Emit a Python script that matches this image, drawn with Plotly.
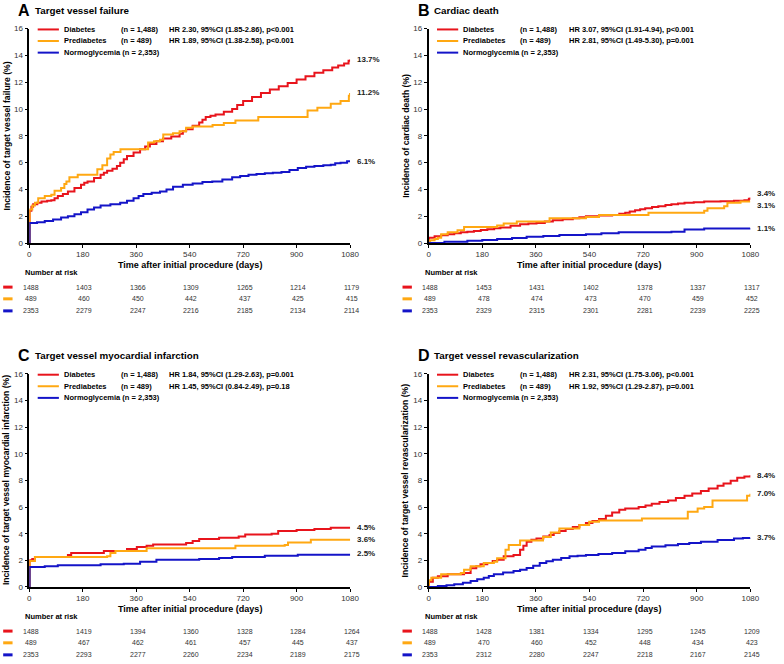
import plotly.graph_objects as go

W, H = 784, 664

# ---------------- DATA ----------------
groups = ["Diabetes", "Prediabetes", "Normoglycemia"]
group_n = ["(n = 1,488)", "(n = 489)", "(n = 2,353)"]
colors = ["#e8141c", "#ffa812", "#1414c8"]

panel_letters = ["A", "B", "C", "D"]
panel_titles = ["Target vessel failure", "Cardiac death",
                "Target vessel myocardial infarction", "Target vessel revascularization"]
y_titles = ["Incidence of target vessel failure (%)", "Incidence of cardiac death (%)",
            "Incidence of target vessel myocardial infarction (%)",
            "Incidence of target vessel revascularization (%)"]
hr_texts = [
    ["HR 2.30, 95%CI (1.85-2.86), p<0.001", "HR 1.89, 95%CI (1.38-2.58), p<0.001"],
    ["HR 3.07, 95%CI (1.91-4.94), p<0.001", "HR 2.81, 95%CI (1.49-5.30), p=0.001"],
    ["HR 1.84, 95%CI (1.29-2.63), p=0.001", "HR 1.45, 95%CI (0.84-2.49), p=0.18"],
    ["HR 2.31, 95%CI (1.75-3.06), p<0.001", "HR 1.92, 95%CI (1.29-2.87), p=0.001"],
]
end_labels = [["13.7%", "11.2%", "6.1%"], ["3.4%", "3.1%", "1.1%"],
              ["4.5%", "3.6%", "2.5%"], ["8.4%", "7.0%", "3.7%"]]

x_ticks = [0, 180, 360, 540, 720, 900, 1080]
y_ticks = [0, 2, 4, 6, 8, 10, 12, 14, 16]
x_title = "Time after initial procedure (days)"

# Panel A: target vessel failure
a_dm_days = [0, 1, 7, 13, 27, 41, 60, 74, 85, 96, 113, 130, 152, 174, 185, 196, 218, 240, 251, 262,
             280, 295, 306, 318, 329, 351, 373, 390, 406, 428, 450, 478, 506, 517, 528, 550, 572, 583,
             594, 610, 627, 655, 683, 700, 720, 750, 780, 810, 840, 870, 900, 930, 960, 990, 1020,
             1040, 1060, 1075, 1080]
a_dm_vals = [0, 2.4, 2.7, 2.9, 3.0, 3.1, 3.15, 3.2, 3.35, 3.5, 3.65, 3.85, 4.1, 4.35, 4.5, 4.6, 4.85,
             5.1, 5.25, 5.4, 5.55, 5.75, 6.0, 6.25, 6.5, 6.75, 7.0, 7.2, 7.4, 7.6, 7.8, 7.95, 8.15, 8.35,
             8.5, 8.75, 9.0, 9.2, 9.4, 9.5, 9.6, 9.8, 10.0, 10.3, 10.6, 10.9, 11.2, 11.45, 11.7, 11.95,
             12.2, 12.45, 12.7, 12.9, 13.1, 13.25, 13.4, 13.6, 13.7]
a_pre_days = [0, 1, 10, 19, 30, 52, 74, 85, 107, 118, 125, 135, 163, 229, 246, 262, 273, 284, 307, 400,
              420, 440, 451, 484, 506, 528, 550, 617, 655, 694, 771, 937, 970, 1015, 1048, 1076, 1080]
a_pre_vals = [0, 2.5, 2.8, 3.0, 3.35, 3.5, 3.6, 3.9, 4.1, 4.4, 4.6, 4.9, 5.1, 5.5, 5.8, 6.3, 6.6, 6.8,
              7.0, 7.5, 7.6, 7.7, 8.1, 8.2, 8.35, 8.6, 8.7, 8.8, 8.95, 9.15, 9.4, 9.9, 10.1, 10.4, 10.6,
              11.0, 11.2]
a_nor_days = [0, 1, 26, 52, 80, 107, 130, 152, 174, 196, 218, 240, 273, 306, 329, 351, 368, 384, 412,
              440, 462, 484, 517, 550, 583, 616, 650, 683, 710, 738, 765, 793, 820, 849, 876, 904, 932,
              960, 990, 1015, 1030, 1048, 1070, 1080]
a_nor_vals = [0, 1.5, 1.55, 1.65, 1.75, 1.9, 2.0, 2.15, 2.3, 2.5, 2.65, 2.8, 2.9, 3.0, 3.15, 3.35, 3.5,
              3.65, 3.75, 3.85, 4.0, 4.2, 4.35, 4.45, 4.55, 4.6, 4.75, 4.9, 5.0, 5.1, 5.15, 5.2, 5.25,
              5.3, 5.45, 5.6, 5.7, 5.75, 5.8, 5.85, 5.95, 6.0, 6.1, 6.1]

# Panel B: cardiac death
b_dm_days = [0, 1, 20, 42, 64, 86, 108, 130, 152, 175, 197, 220, 241, 275, 307, 335, 362, 390, 417,
             450, 484, 506, 528, 572, 616, 640, 660, 675, 693, 710, 727, 750, 771, 795, 815, 837, 859,
             890, 925, 980, 1025, 1060, 1075, 1080]
b_dm_vals = [0, 0.4, 0.5, 0.58, 0.66, 0.73, 0.8, 0.85, 0.9, 0.97, 1.03, 1.1, 1.15, 1.28, 1.4, 1.45,
             1.5, 1.6, 1.7, 1.78, 1.85, 1.93, 2.0, 2.05, 2.1, 2.18, 2.25, 2.35, 2.45, 2.52, 2.6, 2.68,
             2.75, 2.83, 2.9, 2.95, 3.0, 3.05, 3.1, 3.12, 3.15, 3.2, 3.3, 3.4]
b_pre_days = [0, 5, 20, 31, 42, 64, 97, 119, 230, 252, 296, 406, 528, 572, 738, 925, 936, 992, 1003,
              1047, 1080]
b_pre_vals = [0, 0.2, 0.3, 0.4, 0.66, 0.8, 0.95, 1.2, 1.3, 1.45, 1.6, 1.85, 1.95, 2.1, 2.25, 2.4, 2.6,
              2.75, 3.0, 3.1, 3.1]
b_nor_days = [0, 53, 130, 180, 230, 280, 329, 385, 439, 528, 580, 638, 815, 859, 925, 1080]
b_nor_vals = [0, 0.1, 0.17, 0.23, 0.3, 0.38, 0.47, 0.53, 0.6, 0.66, 0.73, 0.8, 0.85, 1.0, 1.08, 1.1]

# Panel C: target vessel MI
c_dm_days = [0, 1, 10, 19, 130, 141, 251, 329, 362, 395, 417, 528, 550, 572, 639, 705, 727, 816, 838,
             900, 960, 1015, 1080]
c_dm_vals = [0, 2.0, 2.1, 2.25, 2.4, 2.55, 2.7, 2.85, 3.0, 3.1, 3.2, 3.3, 3.45, 3.6, 3.7, 3.8, 3.95,
             4.0, 4.2, 4.28, 4.35, 4.45, 4.5]
c_pre_days = [0, 1, 19, 262, 273, 290, 395, 694, 860, 871, 948, 1080]
c_pre_vals = [0, 1.95, 2.25, 2.3, 2.55, 2.7, 2.9, 3.1, 3.15, 3.35, 3.55, 3.6]
c_nor_days = [0, 1, 52, 96, 240, 318, 373, 428, 572, 639, 683, 793, 904, 1080]
c_nor_vals = [0, 1.5, 1.55, 1.63, 1.7, 1.75, 1.9, 2.05, 2.1, 2.17, 2.25, 2.35, 2.42, 2.5]

# Panel D: target vessel revascularization
d_dm_days = [0, 1, 14, 31, 64, 119, 141, 160, 174, 197, 215, 230, 252, 285, 307, 318, 329, 345, 362,
             385, 406, 420, 439, 460, 484, 506, 528, 550, 572, 595, 616, 640, 660, 705, 728, 749, 775,
             804, 830, 859, 885, 914, 940, 970, 990, 1014, 1036, 1060, 1080]
d_dm_vals = [0, 0.4, 0.7, 0.8, 0.95, 1.06, 1.4, 1.55, 1.7, 1.8, 1.95, 2.05, 2.3, 2.4, 2.8, 3.1, 3.4,
             3.55, 3.65, 3.8, 3.9, 4.05, 4.2, 4.35, 4.5, 4.65, 4.8, 4.95, 5.1, 5.35, 5.6, 5.8, 5.9, 6.0,
             6.12, 6.25, 6.38, 6.5, 6.68, 6.85, 7.02, 7.2, 7.4, 7.6, 7.78, 7.97, 8.2, 8.3, 8.4]
d_pre_days = [0, 1, 9, 42, 108, 119, 141, 185, 219, 230, 258, 269, 307, 384, 410, 439, 506, 539, 572,
              716, 870, 903, 925, 953, 1069, 1080]
d_pre_vals = [0, 0.5, 0.7, 0.95, 1.06, 1.3, 1.55, 1.8, 1.9, 2.15, 2.8, 3.15, 3.5, 3.75, 4.1, 4.4, 4.65,
              4.9, 5.0, 5.15, 5.65, 5.9, 6.0, 6.5, 6.85, 7.0]
d_nor_days = [0, 31, 60, 86, 115, 141, 163, 185, 202, 219, 250, 285, 307, 329, 351, 373, 395, 417, 445,
              473, 500, 528, 570, 616, 660, 705, 728, 749, 795, 837, 875, 914, 970, 1025, 1055, 1080]
d_nor_vals = [0, 0.07, 0.13, 0.2, 0.32, 0.45, 0.58, 0.7, 0.82, 0.95, 1.08, 1.2, 1.3, 1.43, 1.6, 1.8,
              1.93, 2.05, 2.18, 2.3, 2.35, 2.4, 2.48, 2.55, 2.68, 2.8, 2.93, 3.04, 3.13, 3.23, 3.3, 3.4,
              3.52, 3.65, 3.68, 3.7]

# Number at risk
a_risk = [[1488, 1403, 1366, 1309, 1265, 1214, 1179],
          [489, 460, 450, 442, 437, 425, 415],
          [2353, 2279, 2247, 2216, 2185, 2134, 2114]]
b_risk = [[1488, 1453, 1431, 1402, 1378, 1337, 1317],
          [489, 478, 474, 473, 470, 459, 452],
          [2353, 2329, 2315, 2301, 2281, 2239, 2225]]
c_risk = [[1488, 1419, 1394, 1360, 1328, 1284, 1264],
          [489, 467, 462, 461, 457, 445, 437],
          [2353, 2293, 2277, 2260, 2234, 2189, 2175]]
d_risk = [[1488, 1428, 1381, 1334, 1295, 1245, 1209],
          [489, 470, 460, 452, 448, 434, 423],
          [2353, 2312, 2280, 2247, 2218, 2167, 2145]]

curves = [
    [(a_dm_days, a_dm_vals), (a_pre_days, a_pre_vals), (a_nor_days, a_nor_vals)],
    [(b_dm_days, b_dm_vals), (b_pre_days, b_pre_vals), (b_nor_days, b_nor_vals)],
    [(c_dm_days, c_dm_vals), (c_pre_days, c_pre_vals), (c_nor_days, c_nor_vals)],
    [(d_dm_days, d_dm_vals), (d_pre_days, d_pre_vals), (d_nor_days, d_nor_vals)],
]
risks = [a_risk, b_risk, c_risk, d_risk]

# ---------------- LAYOUT (pixels) ----------------
# plot-area boxes: left, right, top, bottom
boxes = [(27.7, 353.0, 25.0, 242.3), (432.7, 759.0, 25.0, 242.3),
         (27.7, 353.0, 375.0, 591.0), (432.7, 759.0, 375.0, 591.0)]
end_label_shift = [[0, 0, 0], [4, -4, 0], [0, 0, 0], [0, 0, 0]]

FONT = "Liberation Sans, Arial, Helvetica, sans-serif"


def X(px):
    return px / W


def Y(py):
    return 1 - py / H


fig = go.Figure()
annotations = []
shapes = []

for i in range(4):
    n = "" if i == 0 else str(i + 1)
    xa, ya = "x" + n, "y" + n
    l, r, t, b = boxes[i]
    for g in range(3):
        days, vals = curves[i][g]
        fig.add_trace(go.Scatter(x=days, y=vals, mode="lines", name=groups[g],
                                 line=dict(color=colors[g], width=2, shape="hv"),
                                 xaxis=xa, yaxis=ya, showlegend=False))
    axis_common = dict(showline=True, linecolor="black", linewidth=1.6, ticks="outside",
                       ticklen=3, tickwidth=1.4, tickcolor="black", showgrid=False,
                       zeroline=False, tickfont=dict(family=FONT, size=8, color="#333"))
    fig.layout["xaxis" + n] = dict(domain=[X(l), X(r)], range=[0, 1080], anchor=ya,
                                   tickvals=x_ticks, **axis_common)
    fig.layout["yaxis" + n] = dict(domain=[Y(b), Y(t)], range=[0, 16], anchor=xa,
                                   tickvals=y_ticks, **axis_common)

    # panel letter and title
    annotations.append(dict(x=X(l - 5), y=Y(t - 18.5), xref="paper", yref="paper",
                            text="<b>%s</b>" % panel_letters[i], showarrow=False,
                            font=dict(family=FONT, size=16, color="black"),
                            xanchor="center", yanchor="middle"))
    annotations.append(dict(x=X(l + 3.5), y=Y(t - 18.5), xref="paper", yref="paper",
                            text="<b>%s</b>" % panel_titles[i], showarrow=False,
                            font=dict(family=FONT, size=9.8, color="black"),
                            xanchor="left", yanchor="middle"))
    # y title
    annotations.append(dict(x=X(l - 23), y=Y((t + b) / 2), xref="paper", yref="paper",
                            text="<b>%s</b>" % y_titles[i], showarrow=False, textangle=-90,
                            font=dict(family=FONT, size=8.6, color="black"),
                            xanchor="center", yanchor="middle"))
    # x title
    annotations.append(dict(x=X((l + r) / 2), y=Y(b + 22.5), xref="paper", yref="paper",
                            text="<b>%s</b>" % x_title, showarrow=False,
                            font=dict(family=FONT, size=9, color="black"),
                            xanchor="center", yanchor="middle"))
    # in-plot legend
    leg_rows = [t + 0.8, t + 12.5, t + 24.3]
    for g in range(3):
        yy = Y(leg_rows[g])
        shapes.append(dict(type="line", xref="paper", yref="paper", x0=X(l + 8.5), x1=X(l + 30),
                           y0=yy, y1=yy, line=dict(color=colors[g], width=2)))
        if g < 2:
            annotations.append(dict(x=X(l + 33), y=yy, xref="paper", yref="paper",
                                    text="<b>%s</b>" % groups[g], showarrow=False,
                                    font=dict(family=FONT, size=7.5, color="black"),
                                    xanchor="left", yanchor="middle"))
            annotations.append(dict(x=X(l + 90.5), y=yy, xref="paper", yref="paper",
                                    text="<b>%s</b>" % group_n[g], showarrow=False,
                                    font=dict(family=FONT, size=7.5, color="black"),
                                    xanchor="left", yanchor="middle"))
            annotations.append(dict(x=X(l + 140), y=yy, xref="paper", yref="paper",
                                    text="<b>%s</b>" % hr_texts[i][g], showarrow=False,
                                    font=dict(family=FONT, size=7.5, color="black"),
                                    xanchor="left", yanchor="middle"))
        else:
            annotations.append(dict(x=X(l + 33), y=yy, xref="paper", yref="paper",
                                    text="<b>%s %s</b>" % (groups[g], group_n[g]), showarrow=False,
                                    font=dict(family=FONT, size=7.5, color="black"),
                                    xanchor="left", yanchor="middle"))
    # end labels
    for g in range(3):
        days, vals = curves[i][g]
        annotations.append(dict(x=days[-1], y=vals[-1], xref=xa, yref=ya,
                                text="<b>%s</b>" % end_labels[i][g], showarrow=False,
                                xanchor="left", yanchor="middle", xshift=4.5,
                                yshift=end_label_shift[i][g],
                                font=dict(family=FONT, size=8, color="#222")))
    # number at risk
    annotations.append(dict(x=X(l - 6), y=Y(b + 29.5), xref="paper", yref="paper",
                            text="<b>Number at risk</b>", showarrow=False,
                            font=dict(family=FONT, size=7.5, color="black"),
                            xanchor="left", yanchor="middle"))
    risk_rows = [b + 44.7, b + 56.6, b + 68.8]
    for g in range(3):
        yy = Y(risk_rows[g])
        shapes.append(dict(type="line", xref="paper", yref="paper", x0=X(l - 26.5), x1=X(l - 17),
                           y0=yy, y1=yy, line=dict(color=colors[g], width=3)))
        for k, d in enumerate(x_ticks):
            annotations.append(dict(x=d, y=yy, xref=xa, yref="paper",
                                    text=str(risks[i][g][k]), showarrow=False,
                                    font=dict(family=FONT, size=7, color="#333"),
                                    xanchor="center", yanchor="middle", xshift=1.5))

fig.update_layout(width=W, height=H, margin=dict(l=0, r=0, t=0, b=0),
                  paper_bgcolor="white", plot_bgcolor="white",
                  annotations=annotations, shapes=shapes,
                  font=dict(family=FONT, color="black"))

fig.write_html("out.html", config={"displayModeBar": False},
               post_script="document.body.style.margin='0';document.body.style.overflow='hidden';")
